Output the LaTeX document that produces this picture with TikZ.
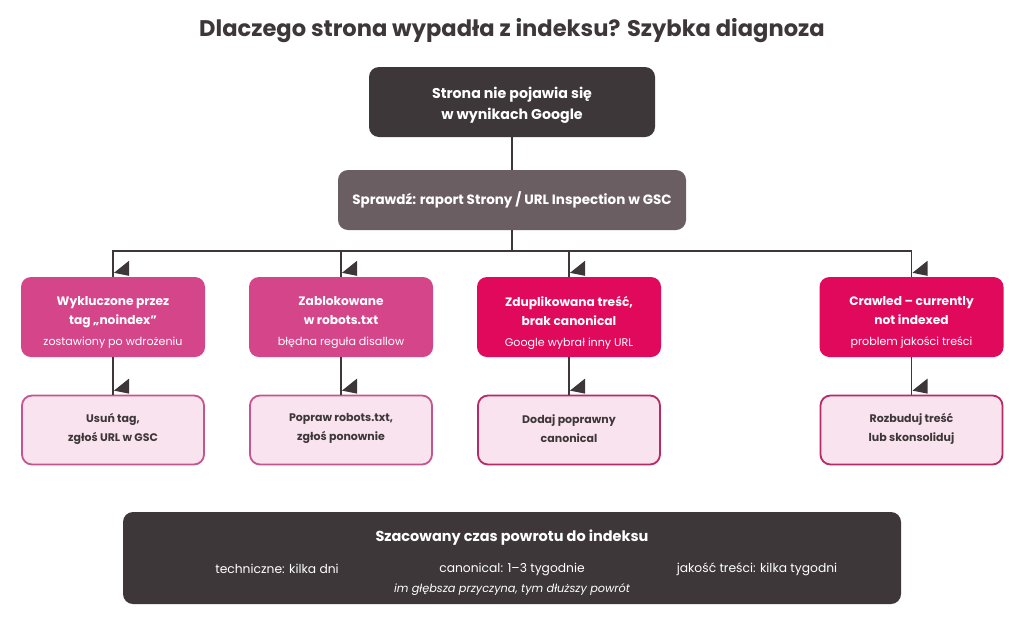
\documentclass[tikz,border=0pt]{standalone}
\usepackage{fontspec}
\setmainfont{Poppins}
\usetikzlibrary{calc}
\definecolor{dark}{HTML}{3E3739}
\definecolor{mid}{HTML}{6B5E62}
\definecolor{pinkc}{HTML}{D4458A}
\definecolor{crim}{HTML}{E0095C}
\definecolor{lightp}{HTML}{F9E3EE}
\definecolor{pinkb}{HTML}{C5558F}
\definecolor{crimb}{HTML}{B72A66}
\newcommand\tipat[1]{\fill[dark] ($(#1.north)+(1,-4)$) -- ++(15,-12) -- ++(0,15) -- cycle;}
\newcommand\subtxt[1]{{\fontsize{11.1}{19}\selectfont\mdseries #1}}
\begin{document}
\begin{tikzpicture}[x=1pt,y=-1pt,
  box/.style={rounded corners=10pt, inner sep=0pt},
  txt/.style={align=center, inner sep=0pt},
  catbox/.style={box, minimum width=184, minimum height=80},
  cattxt/.style={txt, text=white, font=\fontsize{12.2}{19}\selectfont\bfseries},
  actbox/.style={box, minimum width=182, minimum height=69, fill=lightp, line width=1.8},
  acttxt/.style={txt, text=dark, font=\fontsize{11}{19}\selectfont\bfseries},
  conn/.style={draw=dark, line width=1.8},
  info/.style={text=white, font=\fontsize{12.3}{14}\selectfont}
]
\useasboundingbox[fill=white] (0,0) rectangle (1024,635);

\node[font=\fontsize{22.6}{26}\selectfont\bfseries, text=dark] (title) at (512,31) {Dlaczego strona wypadła z indeksu? Szybka diagnoza};

\node[box, fill=dark, minimum width=286, minimum height=70] (top) at (512,102) {};
\node[txt, text=white, font=\fontsize{14.2}{21}\selectfont\bfseries] (toptxt) at (512,105) {Strona nie pojawia się\\w wynikach Google};
\node[box, fill=mid, minimum width=348, minimum height=60, text=white, font=\fontsize{13.5}{18}\selectfont\bfseries] (check) at (512,200) {Sprawdź: raport Strony / URL Inspection w GSC};
\coordinate (bus) at (512,251);

\node[catbox, fill=pinkc] (c1) at (113,317) {};
\node[catbox, fill=pinkc] (c2) at (341,317) {};
\node[catbox, fill=crim] (c3) at (569,317) {};
\node[catbox, fill=crim] (c4) at (911.5,317) {};
\node[cattxt] (c1t) at ($(c1)+(0,5.5)$) {Wykluczone przez\\tag „noindex”\\[2pt]\subtxt{zostawiony po wdrożeniu}};
\node[cattxt] (c2t) at ($(c2)+(0,5.5)$) {Zablokowane\\w robots.txt\\[2pt]\subtxt{błędna reguła disallow}};
\node[cattxt] (c3t) at ($(c3)+(0,5.5)$) {Zduplikowana treść,\\brak canonical\\[2pt]\subtxt{Google wybrał inny URL}};
\node[cattxt] (c4t) at ($(c4)+(0,5.5)$) {Crawled – currently\\not indexed\\[2pt]\subtxt{problem jakości treści}};

\node[actbox, draw=pinkb] (a1) at (113,430) {};
\node[actbox, draw=pinkb] (a2) at (341,430) {};
\node[actbox, draw=crimb] (a3) at (569,430) {};
\node[actbox, draw=crimb] (a4) at (911.5,430) {};
\node[acttxt] (a1t) at ($(a1)+(0,-1.5)$) {Usuń tag,\\zgłoś URL w GSC};
\node[acttxt] (a2t) at ($(a2)+(0,-1.5)$) {Popraw robots.txt,\\zgłoś ponownie};
\node[acttxt] (a3t) at ($(a3)+(0,-1.5)$) {Dodaj poprawny\\canonical};
\node[acttxt] (a4t) at ($(a4)+(0,-1.5)$) {Rozbuduj treść\\lub skonsoliduj};

\node[box, fill=dark, minimum width=778, minimum height=92] (est) at (512,558) {};
\node[text=white, font=\fontsize{14.5}{17}\selectfont\bfseries] (esttitle) at (512,538) {Szacowany czas powrotu do indeksu};
\node[info] (e1) at (277,569) {techniczne: kilka dni};
\node[info] (e2) at (512,569) {canonical: 1–3 tygodnie};
\node[info] (e3) at (757,569) {jakość treści: kilka tygodni};
\node[text=white, font=\fontsize{11.3}{13}\selectfont\itshape] (enote) at (512,590) {im głębsza przyczyna, tym dłuższy powrót};

\draw[conn] (top.south) -- (check.north);
\draw[conn] (check.south) -- (bus);
\foreach \c in {c1,c2,c3,c4} { \draw[conn] (bus) -| (\c.north); }
\draw[conn] (c1.south) -- (a1.north);
\draw[conn] (c2.south) -- (a2.north);
\draw[conn] (c3.south) -- (a3.north);
\draw[conn] (c4.south) -- (a4.north);
\foreach \c in {c1,c2,c3,c4,a1,a2,a3,a4} { \tipat{\c} }
\end{tikzpicture}
\end{document}
